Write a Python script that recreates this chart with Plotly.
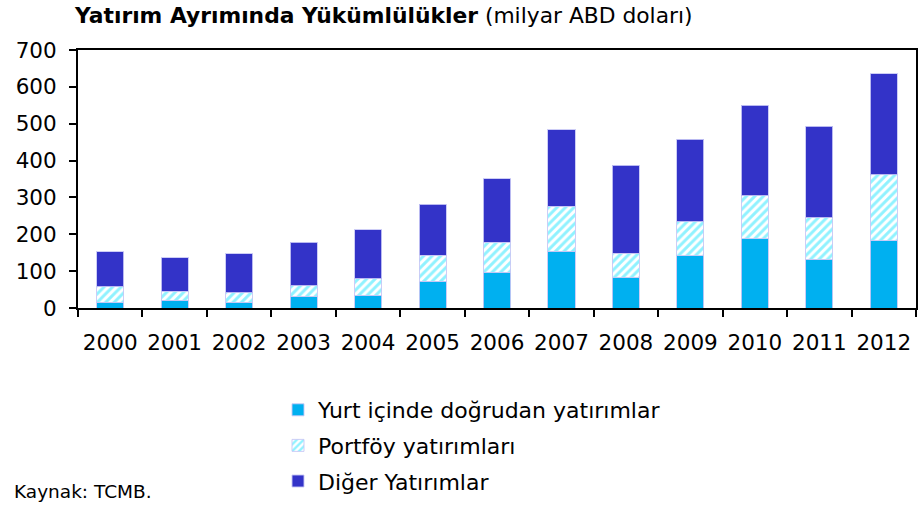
import plotly.graph_objects as go

years = ["2000", "2001", "2002", "2003", "2004", "2005", "2006",
         "2007", "2008", "2009", "2010", "2011", "2012"]
direct = [15, 21, 15, 30, 35, 72, 97, 154, 82, 142, 188, 132, 182]
portfolio = [42, 25, 26, 30, 44, 71, 82, 122, 66, 92, 117, 113, 179]
other = [96, 91, 106, 118, 133, 138, 172, 208, 239, 224, 245, 248, 275]
y_ticks = [0, 100, 200, 300, 400, 500, 600, 700]

FONT = "DejaVu Sans"
edge = dict(color="rgba(200,200,245,0.9)", width=1)

# plot area in pixels
L, R, T, B = 78, 916, 50, 308
W, H = 923, 506


def px_x(px):
    return (px - L) / (R - L)


def px_y(py):
    return (B - py) / (B - T)


fig = go.Figure()
fig.add_trace(go.Bar(
    x=years, y=direct, name="Yurt içinde doğrudan yatırımlar",
    marker=dict(color="#00B0F0", line=edge),
    legendgroup="a", legendrank=1))
fig.add_trace(go.Bar(
    x=years, y=portfolio, name="Portföy yatırımları",
    marker=dict(color="white", line=edge,
                pattern=dict(shape="/", fgcolor="#22E6FF", bgcolor="white",
                             size=6, solidity=0.5)),
    legendgroup="b", legendrank=2))
fig.add_trace(go.Bar(
    x=years, y=other, name="Diğer Yatırımlar",
    marker=dict(color="#3333C8", line=edge),
    legendgroup="c", legendrank=3))

fig.update_layout(
    width=W, height=H,
    barmode="stack", bargap=0.58,
    plot_bgcolor="white", paper_bgcolor="white",
    margin=dict(l=L, r=W - R, t=T, b=H - B, autoexpand=False),
    font=dict(family=FONT, color="black"),
    title=dict(
        text="<b>Yatırım Ayrımında Yükümlülükler</b> (milyar ABD doları)",
        x=75 / W, xanchor="left", y=1 - 15 / H, yanchor="middle",
        font=dict(size=21.8, family=FONT, color="black")),
    showlegend=True,
    legend=dict(
        orientation="v", x=px_x(278), xanchor="left",
        y=px_y(389), yanchor="top",
        traceorder="grouped", tracegroupgap=4,
        font=dict(size=22, family=FONT, color="black"),
        itemwidth=30, bgcolor="rgba(0,0,0,0)"),
    annotations=[dict(
        text="Kaynak: TCMB.", xref="paper", yref="paper",
        x=px_x(12), y=px_y(491), xanchor="left", yanchor="middle",
        showarrow=False, font=dict(size=18.5, family=FONT, color="black"))],
)

fig.update_xaxes(
    type="category", showline=True, linecolor="black", linewidth=2,
    mirror=True, ticks="outside", tickson="boundaries", ticklen=7,
    tickwidth=2, tickcolor="black", showgrid=False, tickangle=0,
    tickfont=dict(size=21.5, family=FONT, color="black"), ticklabelstandoff=14)
fig.update_yaxes(
    range=[0, 700], tickvals=y_ticks, showline=True, linecolor="black",
    linewidth=2, mirror=True, ticks="outside", ticklen=7, tickwidth=2,
    tickcolor="black", showgrid=False, zeroline=False,
    tickfont=dict(size=21.5, family=FONT, color="black"), ticklabelstandoff=8)

fig.write_html("out.html",
               config={"displayModeBar": False},
               post_script="document.body.style.margin='0';"
                           "document.body.style.overflow='hidden';")
